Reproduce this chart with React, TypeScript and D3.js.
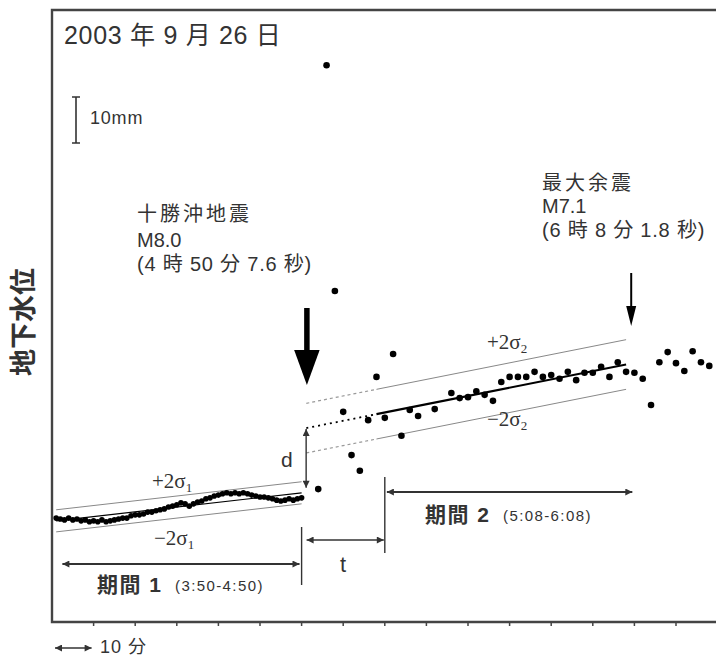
import * as d3 from 'd3';

// time = minutes after midnight, level = mm relative to the 3:50 level
const p1Times = [
  231, 232, 233, 234, 235, 236, 237, 238, 239, 240, 241, 242, 243, 244, 245,
  246, 247, 248, 249, 250, 251, 252, 253, 254, 255, 256, 257, 258, 259, 260,
  261, 262, 263, 264, 265, 266, 267, 268, 269, 270, 271, 272, 273, 274, 275,
  276, 277, 278, 279, 280, 281, 282, 283, 284, 285, 286, 287, 288, 289, 290,
];
const p1Level = [
  0.4, 0.2, 0.0, 0.4, 0.0, 0.2, -0.2, 0.0, -0.4, -0.2, -0.4, 0.0, -0.4, -0.2, 0.0,
  0.2, 0.4, 0.4, 0.9, 1.1, 1.1, 1.3, 1.7, 1.7, 2.0, 2.2, 2.4, 2.8, 3.0, 3.3,
  3.7, 3.5, 3.0, 3.5, 3.9, 4.1, 4.6, 4.8, 5.2, 5.4, 5.7, 5.9, 5.7, 5.9, 5.7,
  5.9, 5.7, 5.4, 5.2, 5.0, 5.0, 4.8, 4.6, 4.3, 4.1, 4.3, 4.6, 4.3, 4.6, 4.8,
];

const p2Times = [
  294, 296, 298, 300, 302, 304, 306, 308, 310, 312, 314, 316, 318, 322, 326,
  328, 330, 332, 334, 336, 338, 340, 342, 344, 346, 348, 350, 352, 354, 356,
  358, 360, 362, 364, 366, 368, 370, 372, 374, 376, 378, 380, 382, 384, 386, 388,
];
const p2Level = [
  6.7, 98.9, 49.8, 23.5, 14.1, 10.7, 21.7, 31.1, 22.2, 36.1, 18.3, 23.9, 22.6, 24.1, 27.6,
  26.5, 26.7, 28.0, 27.2, 25.9, 30.0, 31.1, 31.1, 31.1, 32.2, 31.1, 31.5, 30.7, 32.2, 30.4,
  32.0, 32.0, 33.3, 31.1, 34.3, 32.2, 32.0, 30.7, 25.0, 34.3, 36.5, 34.1, 32.4, 36.7, 34.3, 33.5,
];

const tickMinutes = [240, 250, 260, 270, 280, 290, 300, 310, 320, 330, 340, 350, 360, 370, 380];

// linear fits of each period: [start, end] time and level, 2 sigma in mm
const fit1Times = [231, 290];
const fit1Level = [-0.2, 5.9];
const fit1Sigma2 = 2.4;
const fit2Times = [308, 368];
const fit2Level = [23.0, 33.8];
const fit2Sigma2 = 5.4;

const quakeTime = 290.13; // 4:50:07.6
const aftershockTime = 368.03; // 6:08:01.8

const W = 716;
const H = 658;
const JP = '"Noto Sans CJK JP", "Noto Sans", sans-serif';
const SANS = '"Liberation Sans", "Noto Sans CJK JP", sans-serif';
const SERIF = '"Liberation Serif", "DejaVu Serif", serif';
const INK = '#333';

export default function App() {
  const x = d3.scaleLinear().domain([230, 390]).range([52, 717.6]);
  const y = d3.scaleLinear().domain([-22.2, 110.9]).range([622, 10]);

  const fit2At = (t: number) =>
    fit2Level[0] + ((t - fit2Times[0]) * (fit2Level[1] - fit2Level[0])) / (fit2Times[1] - fit2Times[0]);
  const fit1At = (t: number) =>
    fit1Level[0] + ((t - fit1Times[0]) * (fit1Level[1] - fit1Level[0])) / (fit1Times[1] - fit1Times[0]);

  const line = d3
    .line<[number, number]>()
    .x((d) => x(d[0]))
    .y((d) => y(d[1]));

  const seg = (t0: number, t1: number, f: (t: number) => number, off: number) =>
    line([
      [t0, f(t0) + off],
      [t1, f(t1) + off],
    ]) ?? '';

  const xq = x(quakeTime);
  const xa = x(aftershockTime) + 5;
  const dTop = y(fit2At(quakeTime));
  const dBot = y(fit1At(quakeTime));

  return (
    <svg width={W} height={H} style={{ position: 'absolute', left: 0, top: 0, background: '#fff' }}>
      <defs>
        <marker
          id="ah"
          viewBox="0 0 10 10"
          refX="10"
          refY="5"
          markerWidth="9"
          markerHeight="7"
          markerUnits="userSpaceOnUse"
          orient="auto-start-reverse"
        >
          <path d="M0,0 L10,5 L0,10 z" fill={INK} />
        </marker>
      </defs>

      {/* frame */}
      <path d={`M${W},10 H52 V622 H${W}`} fill="none" stroke="#444" strokeWidth={2.4} />
      {tickMinutes.map((t) => (
        <line key={t} x1={x(t)} x2={x(t)} y1={622} y2={626} stroke="#444" strokeWidth={1.5} />
      ))}

      {/* period 1 fit and 2 sigma band */}
      <path d={seg(fit1Times[0], fit1Times[1], fit1At, fit1Sigma2)} stroke="#888" strokeWidth={1} fill="none" />
      <path d={seg(fit1Times[0], fit1Times[1], fit1At, -fit1Sigma2)} stroke="#888" strokeWidth={1} fill="none" />
      <path d={seg(fit1Times[0], fit1Times[1], fit1At, 0)} stroke="#000" strokeWidth={1.2} fill="none" />

      {/* period 2 fit, extrapolated back to the quake */}
      <path d={seg(quakeTime + 1, fit2Times[0], fit2At, fit2Sigma2)} stroke="#999" strokeWidth={1.2} strokeDasharray="3 3" fill="none" />
      <path d={seg(quakeTime + 1, fit2Times[0], fit2At, -fit2Sigma2)} stroke="#999" strokeWidth={1.2} strokeDasharray="3 3" fill="none" />
      <path d={seg(quakeTime + 1, fit2Times[0], fit2At, 0)} stroke="#000" strokeWidth={1.8} strokeDasharray="2 4" fill="none" />
      <path d={seg(fit2Times[0], fit2Times[1], fit2At, fit2Sigma2)} stroke="#888" strokeWidth={1} fill="none" />
      <path d={seg(fit2Times[0], fit2Times[1], fit2At, -fit2Sigma2)} stroke="#888" strokeWidth={1} fill="none" />
      <path d={seg(fit2Times[0], fit2Times[1], fit2At, 0)} stroke="#000" strokeWidth={2.2} fill="none" />

      {/* data */}
      {p1Times.map((t, i) => (
        <circle key={`a${t}`} cx={x(t)} cy={y(p1Level[i])} r={2.8} fill="#000" />
      ))}
      {p2Times.map((t, i) => (
        <circle key={`b${t}`} cx={x(t)} cy={y(p2Level[i])} r={3.3} fill="#000" />
      ))}

      {/* title and scale bar */}
      <text x={64} y={44} fontFamily={SANS} fontSize={25} letterSpacing={0.7} fill={INK}>
        2003 年 9 月 26 日
      </text>
      <path d="M72,97 H80 M76,97 V143 M72,143 H80" stroke={INK} strokeWidth={1.6} fill="none" />
      <text x={90} y={124} fontFamily={SANS} fontSize={18} letterSpacing={0.8} fill={INK}>
        10mm
      </text>

      {/* y label */}
      <text
        transform="translate(21,322) rotate(-90)"
        textAnchor="middle"
        dominantBaseline="central"
        fontFamily={JP}
        fontSize={27}
        fontWeight="bold"
        fill={INK}
      >
        地下水位
      </text>

      {/* main shock */}
      <g fill={INK} fontFamily={SANS} fontSize={20}>
        <text x={137} y={221} letterSpacing={3}>十勝沖地震</text>
        <text x={137} y={247}>M8.0</text>
        <text x={137} y={271} letterSpacing={0.8}>(4 時 50 分 7.6 秒)</text>
      </g>
      <rect x={xq + 2} y={308} width={5.5} height={44} fill="#000" />
      <path d={`M${xq - 8},350 H${xq + 17.5} L${xq + 4.75},385 Z`} fill="#000" />

      {/* largest aftershock */}
      <g fill={INK} fontFamily={SANS} fontSize={20}>
        <text x={542} y={190} letterSpacing={3}>最大余震</text>
        <text x={542} y={213}>M7.1</text>
        <text x={542} y={237} letterSpacing={0.8}>(6 時 8 分 1.8 秒)</text>
      </g>
      <line x1={xa} x2={xa} y1={273} y2={308} stroke="#000" strokeWidth={2} />
      <path d={`M${xa - 5},306 H${xa + 5} L${xa},326 Z`} fill="#000" />

      {/* sigma labels */}
      <g fontFamily={SERIF} fontSize={21} fill={INK}>
        <text x={152} y={488}>
          +2σ<tspan dy={4} fontSize={13}>1</tspan>
        </text>
        <text x={154} y={545}>
          −2σ<tspan dy={4} fontSize={13}>1</tspan>
        </text>
        <text x={487} y={349}>
          +2σ<tspan dy={4} fontSize={13}>2</tspan>
        </text>
        <text x={487} y={426}>
          −2σ<tspan dy={4} fontSize={13}>2</tspan>
        </text>
      </g>

      {/* d: offset at the quake */}
      <line x1={xq + 4} x2={xq + 4} y1={dBot - 5} y2={dTop} stroke={INK} strokeWidth={1.4} markerStart="url(#ah)" markerEnd="url(#ah)" />
      <text x={281} y={467} fontFamily={SANS} fontSize={21} fill={INK}>d</text>

      {/* t: lag before period 2 */}
      <line x1={x(290)} x2={x(290)} y1={527} y2={585} stroke={INK} strokeWidth={1.4} />
      <line x1={x(310)} x2={x(310)} y1={477} y2={553} stroke={INK} strokeWidth={1.4} />
      <line x1={x(290) + 5} x2={x(310) - 1} y1={540} y2={540} stroke={INK} strokeWidth={1.4} markerStart="url(#ah)" markerEnd="url(#ah)" />
      <text x={340} y={572} fontFamily={SANS} fontSize={22} fill={INK}>t</text>

      {/* period brackets */}
      <line x1={x(232.5)} x2={x(289.5)} y1={564} y2={564} stroke={INK} strokeWidth={2} markerStart="url(#ah)" markerEnd="url(#ah)" />
      <text x={97} y={592} fontFamily={SANS} fontSize={21} fontWeight="bold" letterSpacing={1.5} fill={INK}>期間 1</text>
      <text x={175} y={591} fontFamily={SANS} fontSize={15} letterSpacing={1.4} fill={INK}>(3:50-4:50)</text>
      <line x1={x(310.5)} x2={x(369.5)} y1={492} y2={492} stroke={INK} strokeWidth={2} markerStart="url(#ah)" markerEnd="url(#ah)" />
      <text x={425} y={522} fontFamily={SANS} fontSize={21} fontWeight="bold" letterSpacing={1.5} fill={INK}>期間 2</text>
      <text x={503} y={521} fontFamily={SANS} fontSize={15} letterSpacing={1.4} fill={INK}>(5:08-6:08)</text>

      {/* 10 minute scale */}
      <line x1={55} x2={x(240) - 2} y1={648} y2={648} stroke={INK} strokeWidth={1.4} markerStart="url(#ah)" markerEnd="url(#ah)" />
      <text x={100} y={653} fontFamily={SANS} fontSize={18} letterSpacing={1} fill={INK}>10 分</text>
    </svg>
  );
}
